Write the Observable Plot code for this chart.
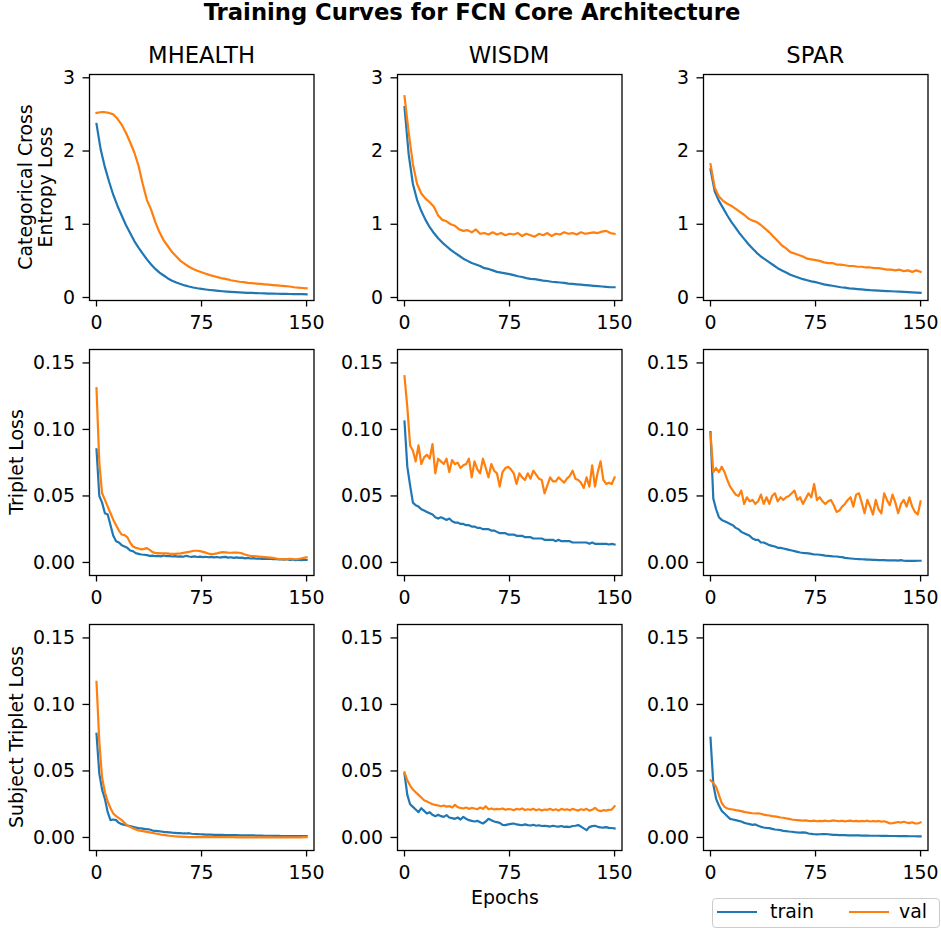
<!DOCTYPE html>
<html>
<head>
<meta charset="utf-8">
<script src="https://cdn.jsdelivr.net/npm/d3@7"></script>
<script src="https://cdn.jsdelivr.net/npm/@observablehq/plot@0.6"></script>
<style>
  body { margin: 0; background: #fff; }
  #fig { position: relative; width: 941px; height: 930px; overflow: hidden; background: #fff;
         font-family: "DejaVu Sans", sans-serif; color: #000; }
  .txt { position: absolute; white-space: nowrap; line-height: 1.164; transform: translate(-50%, -50%); }
  .rot { transform: translate(-50%, -50%) rotate(-90deg); text-align: center; }
  #fig svg { position: absolute; }
</style>
</head>
<body>
<div id="fig"></div>
<script>
// ---------------- labels and ticks ----------------
const figureTitle = "Training Curves for FCN Core Architecture";
const datasets = ["MHEALTH", "WISDM", "SPAR"];
const rowLabels = [["Categorical Cross", "Entropy Loss"], ["Triplet Loss"], ["Subject Triplet Loss"]];
const xLabel = "Epochs";
const seriesNames = ["train", "val"];
const xTicks = [0, 75, 150];
const ceTicks = [0, 1, 2, 3];
const tripletTicks = [0, 0.05, 0.10, 0.15];

const epochsCE = d3.range(0, 151, 3);      // 51 readings
const epochsTriplet = d3.range(0, 151, 2); // 76 readings

// ---------------- Categorical cross-entropy loss ----------------
const mhealthCeTrain = [2.37, 2.02, 1.78, 1.58, 1.40, 1.25, 1.12, 0.99, 0.88, 0.77,
  0.68, 0.60, 0.52, 0.45, 0.39, 0.34, 0.30, 0.26, 0.23, 0.205,
  0.185, 0.165, 0.15, 0.137, 0.126, 0.117, 0.109, 0.102, 0.096, 0.09,
  0.085, 0.081, 0.077, 0.073, 0.07, 0.067, 0.064, 0.062, 0.06, 0.058,
  0.056, 0.054, 0.053, 0.051, 0.05, 0.049, 0.048, 0.047, 0.046, 0.045,
  0.044];
const mhealthCeVal = [2.52, 2.53, 2.53, 2.52, 2.50, 2.44, 2.36, 2.25, 2.12, 1.98,
  1.80, 1.55, 1.33, 1.20, 1.03, 0.89, 0.78, 0.70, 0.62, 0.56,
  0.50, 0.46, 0.42, 0.39, 0.365, 0.345, 0.325, 0.305, 0.29, 0.275,
  0.26, 0.25, 0.235, 0.225, 0.215, 0.21, 0.20, 0.195, 0.19, 0.185,
  0.18, 0.175, 0.17, 0.165, 0.16, 0.155, 0.15, 0.14, 0.135, 0.13,
  0.125];
const wisdmCeTrain = [2.60, 1.95, 1.55, 1.33, 1.18, 1.06, 0.96, 0.88, 0.81, 0.75,
  0.70, 0.65, 0.61, 0.57, 0.53, 0.50, 0.47, 0.45, 0.43, 0.40,
  0.39, 0.37, 0.35, 0.34, 0.33, 0.32, 0.305, 0.29, 0.28, 0.265,
  0.255, 0.25, 0.24, 0.23, 0.225, 0.215, 0.21, 0.205, 0.20, 0.19,
  0.185, 0.18, 0.175, 0.17, 0.165, 0.16, 0.155, 0.15, 0.145, 0.14,
  0.14];
const wisdmCeVal = [2.75, 2.25, 1.82, 1.55, 1.42, 1.35, 1.30, 1.24, 1.12, 1.06,
  1.04, 1.00, 0.98, 0.93, 0.91, 0.92, 0.89, 0.93, 0.87, 0.88,
  0.86, 0.89, 0.86, 0.88, 0.85, 0.87, 0.86, 0.88, 0.84, 0.87,
  0.85, 0.83, 0.87, 0.85, 0.88, 0.84, 0.87, 0.86, 0.89, 0.87,
  0.88, 0.86, 0.89, 0.87, 0.88, 0.89, 0.88, 0.90, 0.91, 0.88,
  0.87];
const sparCeTrain = [1.75, 1.45, 1.32, 1.22, 1.12, 1.03, 0.95, 0.87, 0.80, 0.73,
  0.67, 0.61, 0.56, 0.52, 0.48, 0.44, 0.40, 0.37, 0.34, 0.31,
  0.29, 0.27, 0.25, 0.235, 0.22, 0.21, 0.195, 0.18, 0.17, 0.16,
  0.15, 0.14, 0.135, 0.125, 0.12, 0.115, 0.11, 0.105, 0.10, 0.097,
  0.094, 0.091, 0.088, 0.085, 0.082, 0.079, 0.076, 0.073, 0.07, 0.067,
  0.064];
const sparCeVal = [1.82, 1.50, 1.38, 1.32, 1.28, 1.25, 1.21, 1.17, 1.13, 1.08,
  1.05, 1.03, 0.99, 0.94, 0.89, 0.83, 0.77, 0.71, 0.67, 0.62,
  0.60, 0.58, 0.56, 0.53, 0.52, 0.51, 0.50, 0.48, 0.47, 0.47,
  0.45, 0.45, 0.44, 0.43, 0.43, 0.42, 0.42, 0.41, 0.41, 0.40,
  0.40, 0.39, 0.38, 0.38, 0.37, 0.38, 0.36, 0.37, 0.35, 0.37,
  0.35];

// ---------------- Triplet loss ----------------
const mhealthTripTrain = [0.085, 0.050, 0.045, 0.037, 0.036, 0.028, 0.020, 0.016, 0.015, 0.013,
  0.012, 0.011, 0.009, 0.0085, 0.007, 0.0065, 0.006, 0.0058, 0.0055, 0.005,
  0.0052, 0.0048, 0.005, 0.0046, 0.0052, 0.0047, 0.0049, 0.0045, 0.0048, 0.0044,
  0.0046, 0.0043, 0.005, 0.0045, 0.0042, 0.0046, 0.0041, 0.0044, 0.004, 0.0043,
  0.0039, 0.0042, 0.0038, 0.0041, 0.0037, 0.004, 0.0042, 0.0036, 0.0039, 0.0035,
  0.0038, 0.0034, 0.0036, 0.0031, 0.0034, 0.003, 0.0033, 0.0028, 0.003, 0.0027,
  0.0029, 0.0026, 0.0028, 0.0024, 0.0027, 0.0023, 0.0025, 0.0021, 0.0024, 0.002,
  0.0022, 0.0018, 0.0021, 0.0017, 0.002, 0.0019];
const mhealthTripVal = [0.131, 0.075, 0.052, 0.047, 0.042, 0.037, 0.032, 0.028, 0.024, 0.021,
  0.0205, 0.019, 0.015, 0.012, 0.011, 0.0105, 0.0098, 0.0102, 0.0108, 0.0095,
  0.0078, 0.0072, 0.007, 0.0068, 0.0069, 0.0068, 0.0066, 0.0065, 0.0064, 0.0066,
  0.0068, 0.0072, 0.0076, 0.008, 0.0084, 0.0088, 0.0088, 0.0085, 0.008, 0.0074,
  0.0066, 0.0063, 0.0064, 0.0068, 0.0074, 0.0078, 0.0076, 0.0074, 0.0073, 0.0074,
  0.0075, 0.0073, 0.0068, 0.006, 0.0054, 0.005, 0.0048, 0.0046, 0.0044, 0.0042,
  0.004, 0.0038, 0.0036, 0.0034, 0.003, 0.0027, 0.0025, 0.0023, 0.0025, 0.0027,
  0.0026, 0.0024, 0.0026, 0.003, 0.0034, 0.0038];
const wisdmTripTrain = [0.106, 0.072, 0.058, 0.045, 0.043, 0.042, 0.040, 0.039, 0.038, 0.037,
  0.036, 0.034, 0.033, 0.034, 0.033, 0.032, 0.033, 0.031, 0.030, 0.030,
  0.029, 0.029, 0.028, 0.028, 0.027, 0.027, 0.026, 0.026, 0.025, 0.025,
  0.025, 0.024, 0.024, 0.023, 0.022, 0.022, 0.022, 0.021, 0.021, 0.021,
  0.020, 0.020, 0.020, 0.019, 0.019, 0.019, 0.018, 0.018, 0.018, 0.018,
  0.017, 0.017, 0.017, 0.017, 0.016, 0.017, 0.016, 0.016, 0.016, 0.016,
  0.015, 0.015, 0.015, 0.015, 0.015, 0.015, 0.014, 0.015, 0.014, 0.014,
  0.014, 0.014, 0.014, 0.0135, 0.014, 0.0135];
const wisdmTripVal = [0.140, 0.117, 0.088, 0.084, 0.076, 0.088, 0.074, 0.079, 0.081, 0.078,
  0.089, 0.067, 0.078, 0.076, 0.074, 0.078, 0.068, 0.077, 0.074, 0.075,
  0.071, 0.073, 0.074, 0.078, 0.064, 0.076, 0.070, 0.067, 0.078, 0.071,
  0.064, 0.074, 0.069, 0.067, 0.057, 0.068, 0.071, 0.072, 0.070, 0.067,
  0.059, 0.067, 0.064, 0.062, 0.067, 0.063, 0.069, 0.066, 0.063, 0.062,
  0.052, 0.058, 0.064, 0.061, 0.061, 0.064, 0.062, 0.060, 0.063, 0.065,
  0.069, 0.063, 0.062, 0.060, 0.056, 0.064, 0.057, 0.073, 0.057, 0.068,
  0.076, 0.062, 0.059, 0.060, 0.059, 0.064];
const sparTripTrain = [0.098, 0.048, 0.040, 0.034, 0.032, 0.031, 0.030, 0.029, 0.028, 0.026,
  0.025, 0.023, 0.022, 0.021, 0.020, 0.018, 0.017, 0.017, 0.015, 0.015,
  0.014, 0.013, 0.0125, 0.012, 0.011, 0.011, 0.0105, 0.010, 0.0095, 0.009,
  0.0085, 0.008, 0.0075, 0.0072, 0.007, 0.0068, 0.0065, 0.006, 0.006, 0.0058,
  0.0055, 0.0052, 0.005, 0.0048, 0.0045, 0.0045, 0.0042, 0.004, 0.0035, 0.0032,
  0.003, 0.0028, 0.0026, 0.0025, 0.0024, 0.0023, 0.0022, 0.0021, 0.002, 0.0019,
  0.0018, 0.0018, 0.0017, 0.0016, 0.0016, 0.0015, 0.0015, 0.0014, 0.0018, 0.0013,
  0.0012, 0.0012, 0.0013, 0.0012, 0.0013, 0.0013];
const sparTripVal = [0.097, 0.068, 0.071, 0.068, 0.072, 0.068, 0.062, 0.057, 0.054, 0.051,
  0.050, 0.054, 0.044, 0.049, 0.046, 0.047, 0.044, 0.046, 0.051, 0.044,
  0.049, 0.044, 0.050, 0.052, 0.046, 0.049, 0.047, 0.049, 0.050, 0.052,
  0.054, 0.047, 0.049, 0.044, 0.048, 0.052, 0.049, 0.059, 0.047, 0.049,
  0.046, 0.044, 0.046, 0.047, 0.043, 0.038, 0.039, 0.042, 0.044, 0.047,
  0.049, 0.042, 0.051, 0.052, 0.045, 0.037, 0.047, 0.042, 0.036, 0.047,
  0.040, 0.037, 0.052, 0.047, 0.043, 0.051, 0.045, 0.037, 0.044, 0.047,
  0.042, 0.049, 0.042, 0.038, 0.036, 0.046];

// ---------------- Subject triplet loss ----------------
const mhealthSubTrain = [0.078, 0.048, 0.036, 0.029, 0.019, 0.013, 0.0135, 0.013, 0.011, 0.010,
  0.0095, 0.009, 0.0085, 0.008, 0.0075, 0.007, 0.0068, 0.0065, 0.0062, 0.006,
  0.0052, 0.005, 0.0048, 0.0045, 0.0042, 0.004, 0.0038, 0.0036, 0.0035, 0.0033,
  0.0032, 0.003, 0.003, 0.0032, 0.0028, 0.0026, 0.0025, 0.0024, 0.0023, 0.0022,
  0.0022, 0.0021, 0.002, 0.002, 0.0019, 0.0019, 0.0018, 0.0018, 0.0018, 0.0017,
  0.0017, 0.0016, 0.0016, 0.0016, 0.0015, 0.0015, 0.0015, 0.0014, 0.0014, 0.0014,
  0.0013, 0.0013, 0.0013, 0.0012, 0.0012, 0.0012, 0.0011, 0.0011, 0.0011, 0.0011,
  0.001, 0.001, 0.001, 0.001, 0.001, 0.001];
const mhealthSubVal = [0.117, 0.072, 0.045, 0.034, 0.027, 0.022, 0.018, 0.016, 0.0145, 0.013,
  0.011, 0.009, 0.008, 0.007, 0.006, 0.0053, 0.005, 0.0046, 0.0042, 0.0038,
  0.0034, 0.003, 0.0026, 0.0022, 0.0019, 0.0016, 0.0013, 0.0011, 0.0009, 0.0007,
  0.0006, 0.0005, 0.0004, 0.0003, 0.0003, 0.0002, 0.0002, 0.0002, 0.0002, 0.0002,
  0.0002, 0.0002, 0.0002, 0.0002, 0.0002, 0.0002, 0.0002, 0.0002, 0.0002, 0.0002,
  0.0001, 0.0001, 0.0001, 0.0001, 0.0001, 0.0001, 0.0001, 0.0001, 0.0001, 0.0001,
  0.0001, 0.0001, 0.0001, 0.0001, 0.0001, 0.0001, 0.0001, 0.0001, 0.0001, 0.0001,
  0.0001, 0.0001, 0.0001, 0.0001, 0.0002, 0.0002];
const wisdmSubTrain = [0.048, 0.032, 0.025, 0.023, 0.021, 0.019, 0.022, 0.020, 0.018, 0.019,
  0.017, 0.016, 0.017, 0.016, 0.0155, 0.0168, 0.015, 0.0145, 0.014, 0.015,
  0.0135, 0.0155, 0.014, 0.013, 0.0125, 0.012, 0.0125, 0.0115, 0.0105, 0.012,
  0.014, 0.013, 0.012, 0.0115, 0.011, 0.0095, 0.0093, 0.0098, 0.0102, 0.0105,
  0.0098, 0.0095, 0.0092, 0.0098, 0.0093, 0.009, 0.0095, 0.0088, 0.0092, 0.0086,
  0.0088, 0.0085, 0.0082, 0.0088, 0.0084, 0.0082, 0.0086, 0.008, 0.0082, 0.0078,
  0.0086, 0.0088, 0.0093, 0.0082, 0.0068, 0.0055, 0.0078, 0.0085, 0.0088, 0.008,
  0.0076, 0.0074, 0.0078, 0.0072, 0.0071, 0.0068];
const wisdmSubVal = [0.049, 0.043, 0.039, 0.036, 0.034, 0.032, 0.030, 0.028, 0.027, 0.026,
  0.025, 0.0245, 0.024, 0.0235, 0.024, 0.0232, 0.0236, 0.0225, 0.0245, 0.0228,
  0.0222, 0.0218, 0.0225, 0.0215, 0.0222, 0.0218, 0.0212, 0.0225, 0.0215, 0.0235,
  0.0212, 0.0218, 0.021, 0.0215, 0.0212, 0.0218, 0.0208, 0.0214, 0.0212, 0.0205,
  0.0215, 0.021, 0.0218, 0.0206, 0.0212, 0.0208, 0.0215, 0.0205, 0.0212, 0.0202,
  0.021, 0.0208, 0.0215, 0.0205, 0.0212, 0.0202, 0.0215, 0.0208, 0.0212, 0.0204,
  0.0215, 0.0208, 0.0202, 0.0212, 0.0206, 0.0215, 0.0202, 0.0208, 0.0222, 0.0205,
  0.0198, 0.0205, 0.0202, 0.0208, 0.021, 0.0235];
const sparSubTrain = [0.075, 0.040, 0.029, 0.024, 0.020, 0.018, 0.016, 0.014, 0.0135, 0.013,
  0.0125, 0.012, 0.011, 0.0105, 0.010, 0.0095, 0.0098, 0.0088, 0.008, 0.0075,
  0.0072, 0.007, 0.0065, 0.006, 0.0058, 0.0055, 0.005, 0.0048, 0.0045, 0.0043,
  0.004, 0.0038, 0.0037, 0.0038, 0.0036, 0.003, 0.0027, 0.0024, 0.0023, 0.0024,
  0.0025, 0.0026, 0.0024, 0.0022, 0.002, 0.0019, 0.0018, 0.0018, 0.0017, 0.0016,
  0.0016, 0.0015, 0.0015, 0.0015, 0.0014, 0.0014, 0.0014, 0.0013, 0.0013, 0.0013,
  0.0013, 0.0012, 0.0012, 0.0012, 0.0011, 0.0011, 0.0011, 0.001, 0.001, 0.001,
  0.001, 0.0009, 0.0009, 0.0009, 0.0008, 0.0008];
const sparSubVal = [0.043, 0.041, 0.038, 0.032, 0.026, 0.023, 0.0218, 0.0213, 0.021, 0.0205,
  0.0202, 0.0198, 0.0192, 0.0188, 0.0185, 0.0182, 0.018, 0.0182, 0.0178, 0.0172,
  0.0168, 0.0165, 0.016, 0.0158, 0.0155, 0.015, 0.0148, 0.0143, 0.014, 0.0135,
  0.0132, 0.013, 0.0128, 0.0126, 0.0128, 0.0125, 0.0123, 0.0126, 0.0122, 0.0125,
  0.0123, 0.0127, 0.0122, 0.0125, 0.0128, 0.0124, 0.0122, 0.0126, 0.0121, 0.0124,
  0.0126, 0.0122, 0.0125, 0.0121, 0.0124, 0.0122, 0.0126, 0.012, 0.0124, 0.0121,
  0.0124, 0.0119, 0.0122, 0.0115, 0.0106, 0.0108, 0.0112, 0.0116, 0.0112, 0.0118,
  0.0112, 0.0108, 0.0114, 0.0106, 0.0105, 0.0113];

// ---------------- layout ----------------
const trainColor = "#1f77b4", valColor = "#ff7f0e";
const FONT = "DejaVu Sans";
const tickFont = 18.9, titleFont = 22.7;
const colLeft = [89.3, 396.7, 703];
const rowTop = [74, 349.3, 624.3];
const axW = 224.5, axH = 226;
const ML = 60, MR = 10, MT = 10, MB = 44;

const rows = [
  { ticks: ceTicks, domain: [-0.041, 3.045], fmt: d3.format("d"), epochs: epochsCE,
    series: [[mhealthCeTrain, mhealthCeVal], [wisdmCeTrain, wisdmCeVal], [sparCeTrain, sparCeVal]] },
  { ticks: tripletTicks, domain: [-0.0098, 0.1601], fmt: d3.format(".2f"), epochs: epochsTriplet,
    series: [[mhealthTripTrain, mhealthTripVal], [wisdmTripTrain, wisdmTripVal], [sparTripTrain, sparTripVal]] },
  { ticks: tripletTicks, domain: [-0.0098, 0.1601], fmt: d3.format(".2f"), epochs: epochsTriplet,
    series: [[mhealthSubTrain, mhealthSubVal], [wisdmSubTrain, wisdmSubVal], [sparSubTrain, sparSubVal]] }
];

const fig = document.getElementById("fig");

function toRecords(epochs, values) {
  return values.map((v, i) => ({ epoch: epochs[i], loss: v }));
}

rows.forEach((row, r) => {
  row.series.forEach(([train, val], c) => {
    const lineOpts = { x: "epoch", y: "loss", strokeWidth: 2.2, strokeLinejoin: "round", strokeLinecap: "square" };
    const svg = Plot.plot({
      width: ML + axW + MR,
      height: MT + axH + MB,
      marginLeft: ML, marginRight: MR, marginTop: MT, marginBottom: MB,
      style: { fontFamily: FONT, fontSize: tickFont + "px", color: "#000", background: "transparent", overflow: "visible" },
      x: { domain: [-5.0, 155.3] },
      y: { domain: row.domain },
      marks: [
        Plot.lineY(toRecords(row.epochs, train), { ...lineOpts, stroke: trainColor }),
        Plot.lineY(toRecords(row.epochs, val), { ...lineOpts, stroke: valColor }),
        Plot.frame({ stroke: "#000", strokeWidth: 1.3 }),
        Plot.axisX({ ticks: xTicks, tickFormat: d => String(d), tickSize: 6.5, tickPadding: 8.5,
                     strokeWidth: 1.3, label: null, fill: "#000" }),
        Plot.axisY({ ticks: row.ticks, tickFormat: row.fmt, tickSize: 6.5, tickPadding: 8,
                     strokeWidth: 1.3, label: null, fill: "#000" })
      ]
    });
    svg.style.left = (colLeft[c] - ML) + "px";
    svg.style.top = (rowTop[r] - MT) + "px";
    fig.appendChild(svg);
  });
});

function addText(text, cx, cy, size, extra = {}) {
  const d = document.createElement("div");
  d.className = "txt" + (extra.rotate ? " rot" : "");
  d.innerHTML = text;
  d.style.left = cx + "px";
  d.style.top = cy + "px";
  d.style.fontSize = size + "px";
  if (extra.weight) d.style.fontWeight = extra.weight;
  if (extra.lineHeight) d.style.lineHeight = extra.lineHeight;
  fig.appendChild(d);
  return d;
}

// figure title (baseline ~20)
addText(figureTitle, 472, 20 - 0.346 * titleFont, titleFont, { weight: "bold" });
// column titles (baseline ~62.7)
datasets.forEach((name, c) => addText(name, colLeft[c] + axW / 2, 62.7 - 0.346 * titleFont, titleFont));
// row labels
const rowCenters = rowTop.map(t => t + axH / 2);
addText(rowLabels[0].join("<br>"), 34.5, rowCenters[0], tickFont, { rotate: true, lineHeight: "20.3px" });
addText(rowLabels[1][0], 16, rowCenters[1], tickFont, { rotate: true });
addText(rowLabels[2][0], 16, rowCenters[2], tickFont, { rotate: true });
// x label under middle column
addText(xLabel, colLeft[1] + axW / 2 - 4, 904 - 0.346 * tickFont, tickFont);

// legend (below the last panel)
const legend = document.createElement("div");
Object.assign(legend.style, {
  position: "absolute", left: "711.5px", top: "897.5px", width: "228px", height: "30px",
  border: "1.3px solid #cccccc", borderRadius: "4px", background: "rgba(255,255,255,0.8)", boxSizing: "border-box"
});
fig.appendChild(legend);
const legendItems = [
  { name: seriesNames[0], color: trainColor, lineX: 717, textX: 770 },
  { name: seriesNames[1], color: valColor, lineX: 849, textX: 899 }
];
legendItems.forEach(item => {
  const ln = document.createElement("div");
  Object.assign(ln.style, { position: "absolute", left: item.lineX + "px", top: (912 - 1.1) + "px",
    width: "40px", height: "2.2px", background: item.color });
  fig.appendChild(ln);
  const t = document.createElement("div");
  t.className = "txt";
  t.textContent = item.name;
  Object.assign(t.style, { left: item.textX + "px", top: (918 - 0.346 * tickFont) + "px",
    fontSize: tickFont + "px", transform: "translate(0, -50%)" });
  fig.appendChild(t);
});
</script>
</body>
</html>
